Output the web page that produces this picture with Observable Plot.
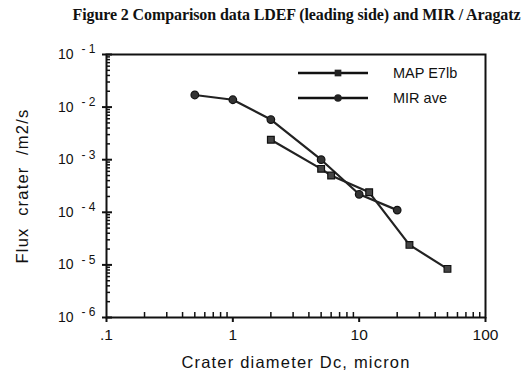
<!DOCTYPE html>
<html>
<head>
<meta charset="utf-8">
<script src="https://cdn.jsdelivr.net/npm/d3@7"></script>
<script src="https://cdn.jsdelivr.net/npm/@observablehq/plot@0.6"></script>
<style>
  html, body { margin: 0; padding: 0; background: #fff; }
  #wrap { position: relative; width: 527px; height: 374px; overflow: hidden; }
  #title { position: absolute; left: 0; top: 6px; width: 527px; padding-left: 66px; box-sizing: border-box;
           text-align: center; font-family: "Liberation Serif", "DejaVu Serif", serif; font-weight: bold;
           font-size: 16px; color: #111; white-space: nowrap; letter-spacing: -0.1px; }
  #chart { position: absolute; left: 0; top: 30px; }
</style>
</head>
<body>
<div id="wrap">
  <div id="title">Figure 2 Comparison data LDEF (leading side) and MIR / Aragatz</div>
  <div id="chart"></div>
</div>
<script>
// Series: MAP E7lb (squares)
const mapDiameter = [2, 5, 6, 12, 25, 50];
const mapFlux = [2.4e-3, 6.7e-4, 5.0e-4, 2.4e-4, 2.4e-5, 8.4e-6];
// Series: MIR ave (round markers)
const mirDiameter = [0.5, 1, 2, 5, 10, 20];
const mirFlux = [1.7e-2, 1.38e-2, 5.8e-3, 1.0e-3, 2.2e-4, 1.1e-4];

const seriesNames = ["MAP E7lb", "MIR ave"];

// Axis ticks
const xTicks = [0.1, 1, 10, 100];
const xTickLabels = [".1", "1", "10", "100"];
const yTicks = [1e-1, 1e-2, 1e-3, 1e-4, 1e-5, 1e-6];
const yTickExponents = ["1", "2", "3", "4", "5", "6"];

const xMinor = [];
for (let e = -1; e < 2; e++) for (let m = 2; m <= 9; m++) xMinor.push(m * Math.pow(10, e));
const yMinor = [];
for (let e = -6; e < -1; e++) for (let m = 2; m <= 9; m++) yMinor.push(m * Math.pow(10, e));

const mapData = mapDiameter.map((d, i) => ({d, f: mapFlux[i]}));
const mirData = mirDiameter.map((d, i) => ({d, f: mirFlux[i]}));
const yLabelData = yTicks.map((v, i) => ({v, e: yTickExponents[i]}));

const sans = "'Liberation Sans', Arial, Helvetica, sans-serif";
const blank = () => "";

const chart = Plot.plot({
  width: 527,
  height: 344,
  marginTop: 24,
  marginBottom: 57,
  marginLeft: 106,
  marginRight: 42,
  style: {fontFamily: sans, fontSize: "14px", color: "#111", background: "white"},
  x: {type: "log", domain: [0.1, 100]},
  y: {type: "log", domain: [1e-6, 1e-1]},
  marks: [
    // minor ticks (inward)
    Plot.axisX(xMinor, {anchor: "bottom", tickSize: -5, tickFormat: blank, label: null, strokeWidth: 1.5}),
    Plot.axisY(yMinor, {anchor: "left", tickSize: -4, tickFormat: blank, label: null, strokeWidth: 1.5}),
    // major ticks
    Plot.axisX(xTicks, {anchor: "bottom", tickSize: 5, tickPadding: 6, strokeWidth: 2,
      tickFormat: d => xTickLabels[xTicks.indexOf(d)], fontSize: 15.5, label: null}),
    Plot.axisY(yTicks, {anchor: "left", tickSize: 4, tickFormat: blank, strokeWidth: 2, label: null}),
    Plot.axisY(yTicks, {anchor: "left", tickSize: -6, tickFormat: blank, strokeWidth: 2, label: null}),
    // y tick labels: 10 with superscript exponent
    Plot.text(yLabelData, {y: "v", frameAnchor: "left", text: () => "10", textAnchor: "end",
      dx: -33, dy: 0, fontSize: 14}),
    Plot.text(yLabelData, {y: "v", frameAnchor: "left", text: d => "- " + d.e, textAnchor: "start",
      dx: -25, dy: -5, fontSize: 12}),
    // axis titles
    Plot.text([0], {frameAnchor: "bottom", textAnchor: "middle", text: () => "Crater diameter Dc, micron",
      dy: 50, fontSize: 16.5, style: "letter-spacing:1.2px"}),
    Plot.text([0], {frameAnchor: "left", textAnchor: "middle", text: () => "Flux  crater  /m2/s",
      rotate: -90, dx: -84, fontSize: 16.5}),
    // frame
    Plot.frame({stroke: "#111", strokeWidth: 2}),
    // data
    Plot.line(mirData, {x: "d", y: "f", stroke: "#222", strokeWidth: 2.2}),
    Plot.dot(mirData, {x: "d", y: "f", r: 3.8, fill: "#333", stroke: "#111", strokeWidth: 1.2}),
    Plot.line(mapData, {x: "d", y: "f", stroke: "#222", strokeWidth: 2.2}),
    Plot.dot(mapData, {x: "d", y: "f", symbol: "square", r: 3.8, fill: "#444", stroke: "#111", strokeWidth: 1.2})
  ]
});
document.getElementById("chart").appendChild(chart);

// letter spacing on axis titles (for the wide scanned lettering)
d3.select(chart).selectAll("text").filter(function () {
  const t = this.textContent;
  return t === "Crater diameter Dc, micron" || t === "Flux  crater  /m2/s";
}).style("letter-spacing", "1.2px");

// legend (inside plot area, top right)
const svg = d3.select(chart);
const legendRows = seriesNames.map((name, i) => ({name, i}));
const lg = svg.append("g").attr("font-family", sans).attr("font-size", 14.5)
  .attr("fill", "#111").attr("text-anchor", "start");
lg.selectAll("line").data(legendRows).join("line")
  .attr("x1", 298).attr("x2", 368)
  .attr("y1", d => 43 + d.i * 25).attr("y2", d => 43 + d.i * 25)
  .attr("stroke", "#111").attr("stroke-width", 2.5);
lg.selectAll("path").data(legendRows).join("path")
  .attr("transform", d => `translate(338,${43 + d.i * 25})`)
  .attr("d", d => d.i === 0 ? d3.symbol(d3.symbolSquare, 45)() : d3.symbol(d3.symbolCircle, 45)())
  .attr("fill", "#222");
lg.selectAll("text").data(legendRows).join("text")
  .attr("x", 393).attr("y", d => 43 + d.i * 25).attr("dy", "0.35em")
  .text(d => d.name);
</script>
</body>
</html>
